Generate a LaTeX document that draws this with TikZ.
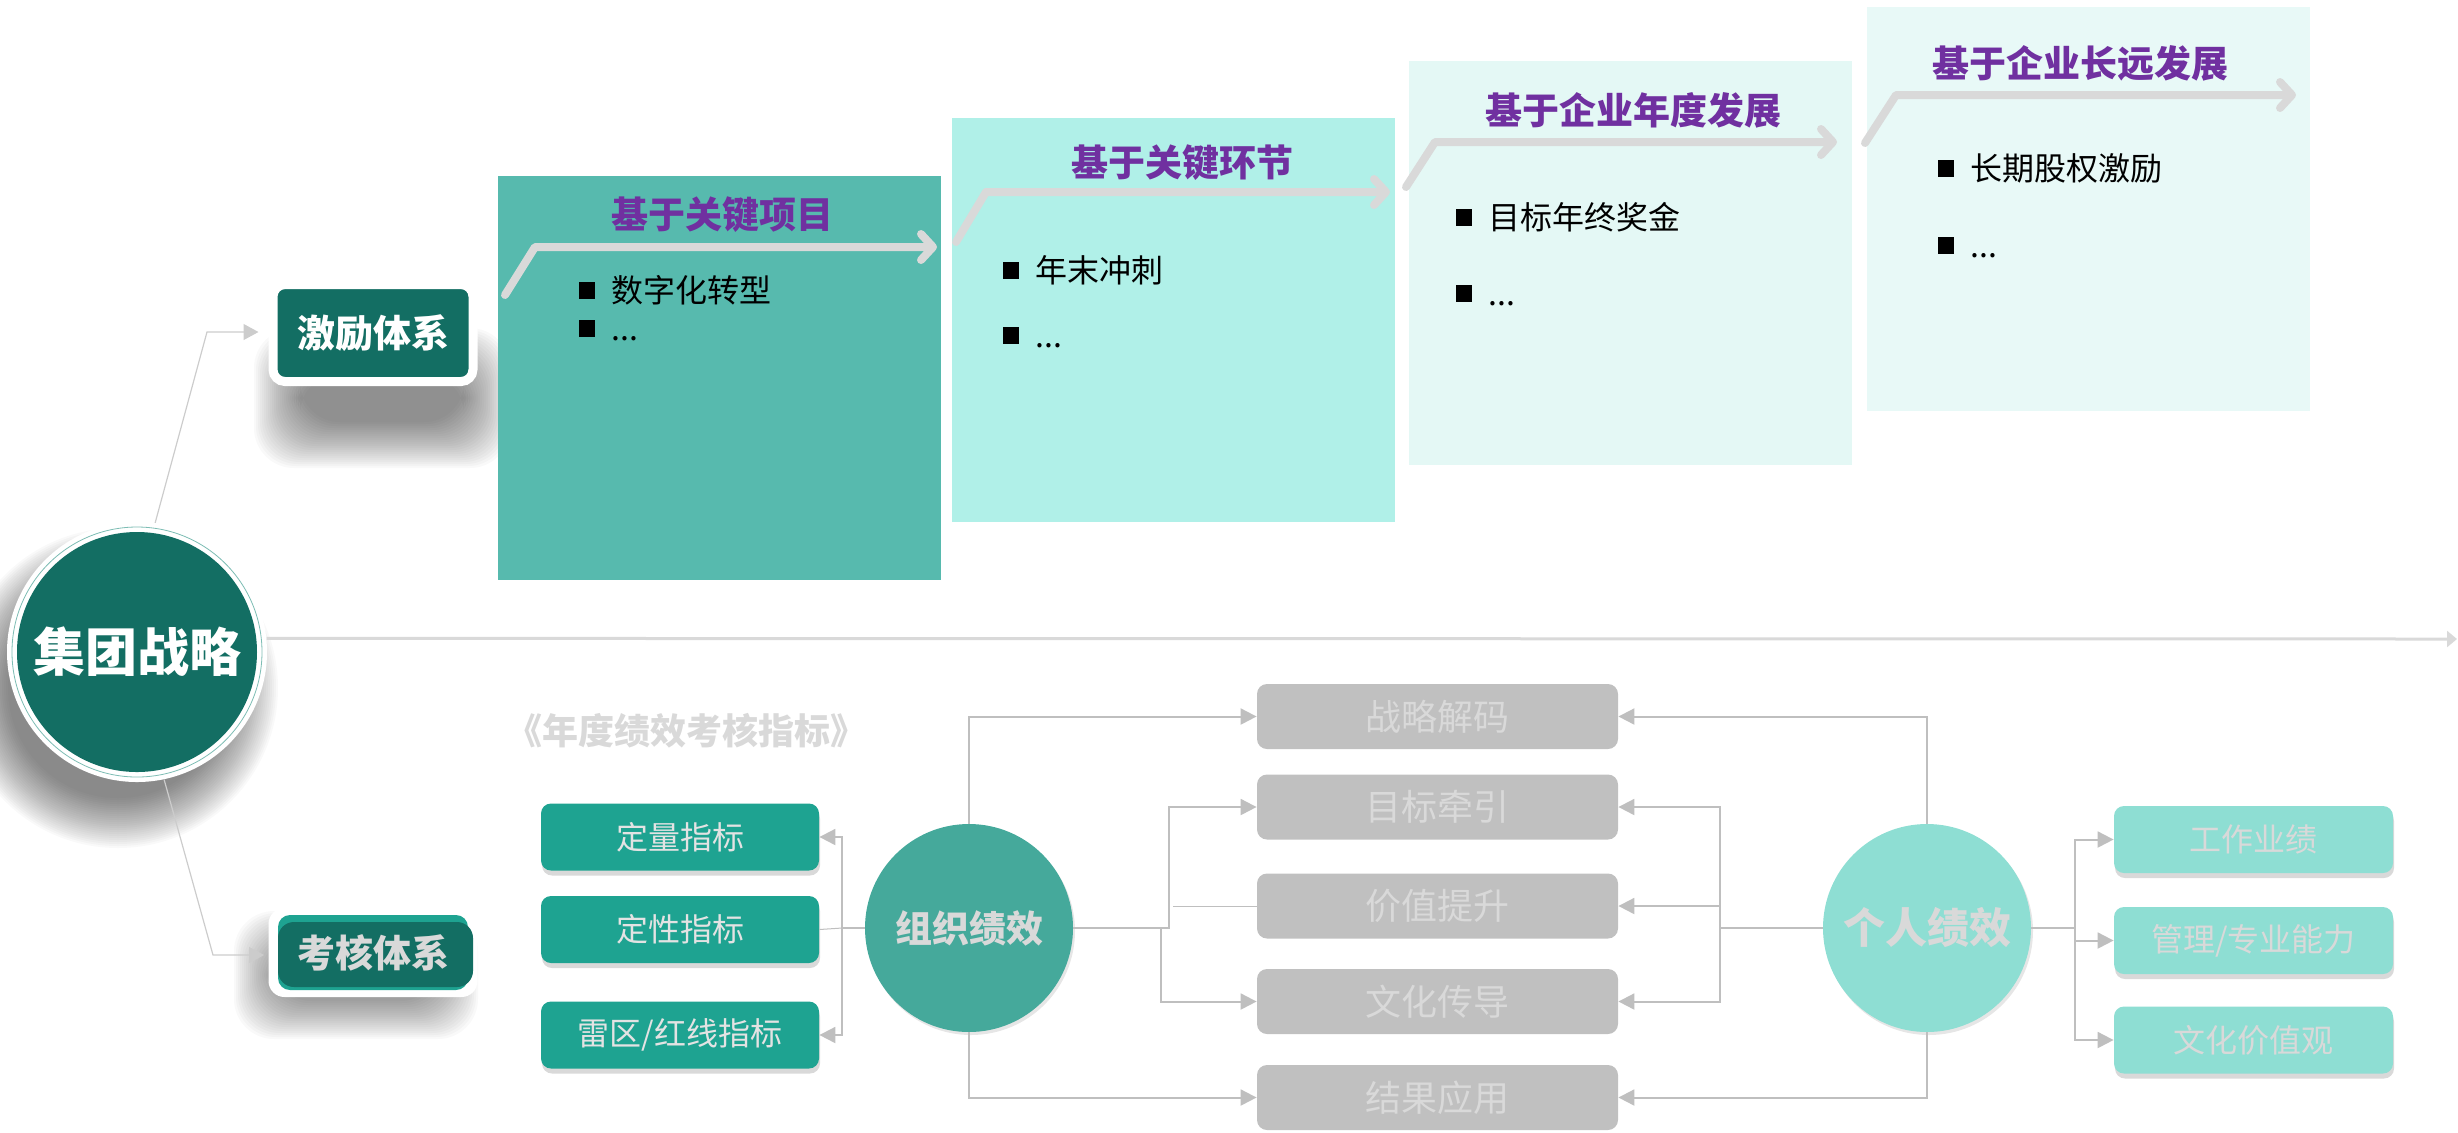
\documentclass[tikz,border=0pt]{standalone}
\usepackage{fontspec}
\setmainfont{Noto Sans CJK SC}
\usepackage{xcolor}
\usepackage{tikz}
\usetikzlibrary{arrows.meta,shapes,shadows,calc,positioning}
\definecolor{coreC}{HTML}{136E63}
\definecolor{ringC}{HTML}{7DBDB4}
\definecolor{stageAC}{HTML}{57BAAE}
\definecolor{stageBC}{HTML}{B0F0E8}
\definecolor{stageCC}{HTML}{E4F8F5}
\definecolor{stageDC}{HTML}{E8F9F7}
\definecolor{titleC}{HTML}{7030A0}
\definecolor{stepC}{HTML}{D9D9D9}
\definecolor{kpiC}{HTML}{1EA391}
\definecolor{orgC}{HTML}{45A99B}
\definecolor{perC}{HTML}{8EDED3}
\definecolor{boxC}{HTML}{C0C0C0}
\definecolor{lineC}{HTML}{BFBFBF}
\definecolor{fadeC}{HTML}{D9D9D9}
\definecolor{kpiT}{HTML}{E3E3E3}
\newcommand\fs[1]{\fontsize{#1}{#1}\selectfont}
\newcommand\sq{\raisebox{1.75pt}{\rule{8pt}{8.5pt}}\hspace{8pt}}

\begin{document}
\begin{tikzpicture}[x=0.5pt,y=-0.5pt,
  conn/.style={draw=lineC,line width=1pt,-{Triangle[length=8pt,width=8pt]}},
  plain/.style={draw=lineC,line width=0.5pt},
  axis/.style={draw=stepC,line width=1.5pt,-{Triangle[length=5pt,width=8pt]}},
  stepline/.style={draw=stepC,line width=4pt,line cap=round,line join=round,-{Straight Barb[length=6pt,width=13pt,round]}},
  core/.style={circle,fill=white,minimum size=130pt,inner sep=0pt,text=white,font=\fs{26}\bfseries,
    path picture={\fill[coreC] (path picture bounding box.center) circle[radius=60pt];
      \draw[ringC,line width=0.4pt] (path picture bounding box.center) circle[radius=62.5pt];}},
  sysbox/.style={rectangle,rounded corners=6pt,fill=coreC,draw=white,line width=4.5pt,
    minimum width=100pt,minimum height=48.5pt,inner sep=0pt,text=white,font=\fs{19}\bfseries},
  stage/.style={rectangle,inner sep=0pt,minimum width=221.5pt,minimum height=202pt},
  title/.style={text=titleC,font=\fs{18.5}\bfseries},
  item/.style={anchor=west,inner sep=0pt,font=\fs{16},text height=14pt,text depth=2pt},
  softshadow/.style={drop shadow={shadow xshift=0.5pt,shadow yshift=-2.5pt,opacity=0.3}},
  kpi/.style={rectangle,rounded corners=5pt,fill=kpiC,minimum width=139pt,minimum height=33.5pt,
    text=kpiT,font=\fs{16},softshadow},
  gbox/.style={rectangle,rounded corners=5pt,fill=boxC,minimum width=180.5pt,minimum height=32.5pt,
    text=fadeC,font=\fs{18}},
  pbox/.style={rectangle,rounded corners=5pt,fill=perC,minimum width=139.5pt,minimum height=33.5pt,
    text=fadeC,font=\fs{16},softshadow},
  hub/.style={circle,minimum size=104pt,inner sep=0pt,text=fadeC,
    drop shadow={shadow xshift=1pt,shadow yshift=-1.5pt,opacity=0.2}}]
\useasboundingbox (0,0) rectangle (2458,1132);
\newcommand\blurDisc[3]{\foreach \i in {1,...,26}{\fill[black,opacity=0.022] (#1,#2) circle[radius=#3+2*\i];}}
\newcommand\blurRect[5]{\foreach \i in {1,...,#5}{\fill[black,opacity=0.024,rounded corners=20pt] (#1-#3-2*\i,#2-#4-2*\i) rectangle (#1+#3+2*\i,#2+#4+2*\i);}}

\blurDisc{118}{688}{108}
\blurRect{382}{398}{80}{22}{24}
\blurRect{356}{975}{82}{24}{20}

\node[stage,fill=stageAC] (s1) at (719.5,378) {};
\node[stage,fill=stageBC] (s2) at (1173,320) {};
\node[stage,fill=stageCC] (s3) at (1630.5,263) {};
\node[stage,fill=stageDC] (s4) at (2088,209) {};
\draw[stepline] (505,295) -- (535,247) -- (937,247);
\draw[stepline] (956,242) -- (986,192) -- (1390,192);
\draw[stepline] (1406,187) -- (1435,142) -- (1837,142);
\draw[stepline] (1865,143) -- (1896,95) -- (2296,95);
\node[title] (t1) at (722,215) {基于关键项目};
\node[title] (t2) at (1182,163) {基于关键环节};
\node[title] (t3) at (1633,110) {基于企业年度发展};
\node[title] (t4) at (2080,63) {基于企业长远发展};
\node[item] (i1a) at (579,290) {\sq 数字化转型};
\node[item] (i1b) at (579,328) {\sq ...};
\node[item] (i2a) at (1003,270) {\sq 年末冲刺};
\node[item] (i2b) at (1003,335) {\sq ...};
\node[item] (i3a) at (1456,217) {\sq 目标年终奖金};
\node[item] (i3b) at (1456,293) {\sq ...};
\node[item] (i4a) at (1938,168) {\sq 长期股权激励};
\node[item] (i4b) at (1938,245) {\sq ...};

\node[core] (core) at (137,652) {集团战略};
\node[sysbox] (incentive) at (373,333) {激励体系};
\node[rectangle,rounded corners=8pt,fill=white,minimum width=104.5pt,minimum height=44.5pt,inner sep=0pt,
  text=fadeC,font=\fs{19}\bfseries,
  path picture={\fill[kpiC,rounded corners=6pt] ([shift={(-47.5pt,-18.75pt)}]path picture bounding box.center) rectangle ++(95pt,37.5pt);
    \fill[coreC] ([shift={(-47.5pt,-17.25pt)}]path picture bounding box.center) rectangle ++(97.5pt,32.5pt);}]
  (assess) at (373,952.5) {考核体系};
\coordinate (kneeA) at (207,332);
\coordinate (kneeB) at (213,955);
\coordinate (lineend) at (2457,639);
\draw[draw=lineC!80,line width=0.6pt,-{Triangle[length=7.5pt,width=8pt]},shorten >=5pt] (core.82) -- (kneeA) -- (incentive.west |- kneeA);
\draw[draw=lineC!80,line width=0.6pt,-{Triangle[length=7.5pt,width=8pt]},shorten >=2pt] (core.-78) -- (kneeB) -- (assess.west |- kneeB);
\draw[axis] (core.6) -- (lineend);

\node[font=\fs{18}\bfseries,text=fadeC] (yearly) at (686,731) {《年度绩效考核指标》};
\node[kpi] (k1) at (680,837) {定量指标};
\node[kpi] (k2) at (680,929.5) {定性指标};
\node[kpi] (k3) at (680,1035) {雷区/红线指标};
\node[hub,fill=orgC,font=\fs{18.5}\bfseries] (org) at (969,928) {组织绩效};
\node[gbox] (g1) at (1437.5,716.5) {战略解码};
\node[gbox] (g2) at (1437.5,807) {目标牵引};
\node[gbox] (g3) at (1437.5,906) {价值提升};
\node[gbox] (g4) at (1437.5,1001.5) {文化传导};
\node[gbox] (g5) at (1437.5,1097.5) {结果应用};
\node[hub,fill=perC,font=\fs{21}\bfseries] (per) at (1927,928) {个人绩效};
\node[pbox] (r1) at (2253.5,839.5) {工作业绩};
\node[pbox] (r2) at (2253.5,940.5) {管理/专业能力};
\node[pbox] (r3) at (2253.5,1040) {文化价值观};

\coordinate (oL) at (842,928);
\coordinate (oR1) at (1169,928);
\coordinate (oR2) at (1161,928);
\coordinate (pL) at (1720,928);
\coordinate (pR) at (2075,928);
\draw[conn] (org.west) -- (oL) |- (k1.east);
\draw[conn] (oL) |- (k3.east);
\draw[plain] (oL) -- (k2.east);
\draw[conn] (org.north) |- (g1.west);
\draw[conn] (org.south) |- (g5.west);
\draw[conn] (org.east) -- (oR1) |- (g2.west);
\draw[conn] (org.east) -- (oR2) |- (g4.west);
\draw[plain] ([xshift=2pt]oR1 |- g3.west) -- (g3.west);
\draw[conn] (per.north) |- (g1.east);
\draw[conn] (per.south) |- (g5.east);
\draw[conn] (per.west) -- (pL) |- (g2.east);
\draw[conn] (pL) |- (g3.east);
\draw[conn] (pL) |- (g4.east);
\draw[conn] (per.east) -- (pR) |- (r1.west);
\draw[conn] (pR) |- (r2.west);
\draw[conn] (pR) |- (r3.west);
\end{tikzpicture}
\end{document}
